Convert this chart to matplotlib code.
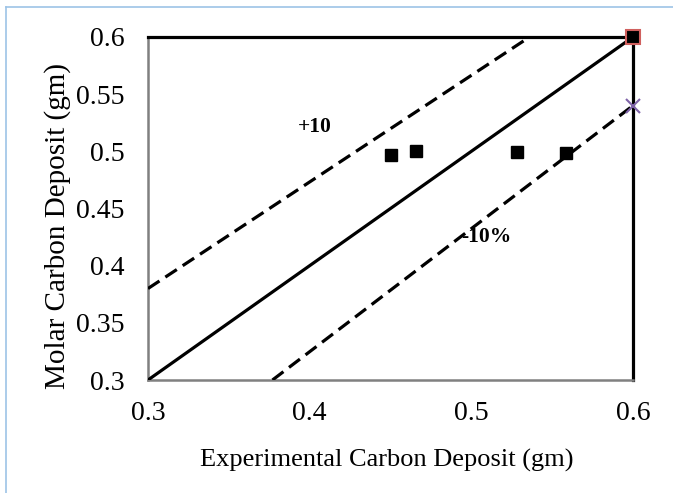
import matplotlib
matplotlib.use("Agg")
import matplotlib.pyplot as plt
from matplotlib.lines import Line2D

plt.rcParams['font.family'] = ['Liberation Serif', 'DejaVu Serif']

# Data
exp_deposit = [0.45, 0.4655, 0.5285, 0.5585]
molar_deposit = [0.497, 0.5005, 0.4995, 0.4985]
ref_point_x = [0.6]
ref_point_y = [0.6]
x_point_x = [0.6]
x_point_y = [0.54]

parity_x = [0.3, 0.6]
parity_y = [0.3, 0.6]
plus10_x = [0.3, 0.536]
plus10_y = [0.38, 0.6]
minus10_x = [0.377, 0.6]
minus10_y = [0.3, 0.54]

xticks = [0.3, 0.4, 0.5, 0.6]
xtick_labels = ['0.3', '0.4', '0.5', '0.6']
yticks = [0.3, 0.35, 0.4, 0.45, 0.5, 0.55, 0.6]
ytick_labels = ['0.3', '0.35', '0.4', '0.45', '0.5', '0.55', '0.6']

fig = plt.figure(figsize=(6.73, 4.93), dpi=100)
ax = fig.add_axes([148/673, 1 - 380/493, (633-148)/673, (380-37)/493])

ax.plot(parity_x, parity_y, color='black', lw=2.3, solid_capstyle='butt', zorder=3)
ax.plot(plus10_x, plus10_y, color='black', lw=2.3, ls=(0, (4.3, 2.2)), zorder=3)
ax.plot(minus10_x, minus10_y, color='black', lw=2.3, ls=(0, (4.3, 2.2)), zorder=3)

ax.plot(exp_deposit, molar_deposit, ls='none', marker='s', ms=8.5,
        color='black', zorder=4)
ax.plot(ref_point_x, ref_point_y, ls='none', marker='s', ms=9.5,
        mfc='black', mec='#D0605E', mew=1.5, zorder=5, clip_on=False)
ax.plot(x_point_x, x_point_y, ls='none', marker='x', ms=10,
        color='#7F63A8', mew=1.5, zorder=5, clip_on=False)

ax.text(0.403, 0.5216, '+10', fontsize=15.5, fontweight='bold',
        ha='center', va='center')
ax.text(0.5095, 0.4253, '-10%', fontsize=15.5, fontweight='bold',
        ha='center', va='center', zorder=6)

ax.set_xlim(0.3, 0.6)
ax.set_ylim(0.3, 0.6)
ax.set_xticks(xticks)
ax.set_xticklabels(xtick_labels)
ax.set_yticks(yticks)
ax.set_yticklabels(ytick_labels)
ax.tick_params(length=0, labelsize=20)
ax.tick_params(axis='x', pad=15)
ax.tick_params(axis='y', pad=17)

for s in ['left', 'bottom']:
    ax.spines[s].set_color('#808080')
    ax.spines[s].set_linewidth(1.8)
for s in ['top', 'right']:
    ax.spines[s].set_color('black')
    ax.spines[s].set_linewidth(2.3)

ax.text((387-148)/485, (380-460)/343, 'Experimental Carbon Deposit (gm)',
        fontsize=19, ha='center', va='center', transform=ax.transAxes)
ax.text((58-148)/485, (380-226)/343, 'Molar Carbon Deposit (gm)',
        fontsize=21, ha='center', va='center', rotation=90,
        transform=ax.transAxes)

# light blue frame
fig.add_artist(Line2D([6/673, 6/673], [0, 1 - 7/493], transform=fig.transFigure,
                      color='#9DC3E6', lw=1.2))
fig.add_artist(Line2D([6/673, 1], [1 - 7/493, 1 - 7/493], transform=fig.transFigure,
                      color='#9DC3E6', lw=1.2))

fig.savefig('out.png', dpi=100)
